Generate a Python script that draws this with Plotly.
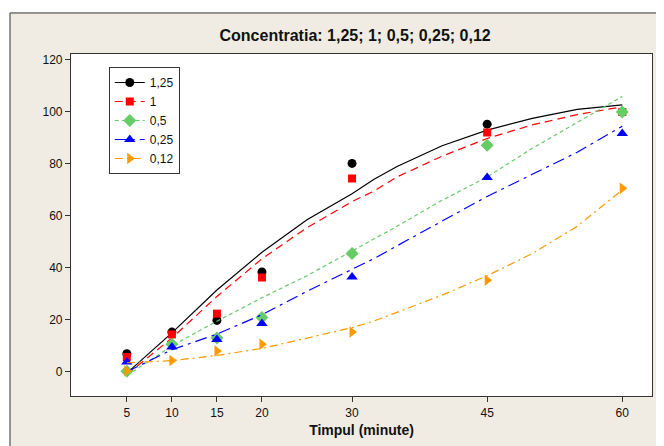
import plotly.graph_objects as go

# Data points (measured)
time_pts = [5, 10, 15, 20, 30, 45, 60]
conc_labels = ["1,25", "1", "0,5", "0,25", "0,12"]
val_125 = [7, 15.3, 19.8, 38.4, 80.2, 95.3, 100]
val_1 = [5.7, 14.4, 22.4, 36.3, 74.4, 92.1, 100]
val_05 = [0.2, 10.6, 13, 20.9, 45.5, 87.2, 100]
val_025 = [3.8, 9.6, 12.4, 18.6, 36.5, 74.8, 91.7]
val_012 = [0.3, 4.4, 8, 10.6, 15.3, 35.2, 70.6]

# Fitted (smoothed) curves
fit_time = [5, 10, 15, 20, 25, 30, 32.4, 35, 40, 45, 50, 55, 60]
fit_125 = [-0.5, 15, 31.5, 46, 58.5, 68.5, 74, 79, 87, 93, 97.5, 101, 102.7]
fit_1 = [-1, 13, 29, 43.5, 55.5, 65.5, 69.5, 75, 83, 89.8, 95, 99, 102]
fit_05 = [-1.5, 10, 19.5, 28.5, 37, 46.5, 51, 56, 66, 75, 86, 96, 106]
fit_025 = [0, 8.5, 14.5, 22, 31, 39.5, 43.5, 48.5, 58, 67.5, 76, 84.5, 94.5]
fit_012 = [3.5, 4.3, 6.3, 9, 13, 17, 19.5, 23, 29.5, 37, 45.5, 56, 70]

x_ticks = [5, 10, 15, 20, 30, 45, 60]
y_ticks = [0, 20, 40, 60, 80, 100, 120]

styles = [
    dict(color="#000000", dash="solid", symbol="circle", size=9),
    dict(color="#FF0000", dash="8px,5px", symbol="square", size=8),
    dict(color="#66CC66", dash="4px,3px", symbol="diamond", size=10),
    dict(color="#0000FF", dash="12px,5px,3px,5px", symbol="triangle-up", size=10),
    dict(color="#FF9900", dash="8px,4px,2px,4px", symbol="triangle-right", size=10),
]
vals = [val_125, val_1, val_05, val_025, val_012]
fits = [fit_125, fit_1, fit_05, fit_025, fit_012]

fig = go.Figure()
for lab, st, v, f in zip(conc_labels, styles, vals, fits):
    fig.add_trace(go.Scatter(x=fit_time, y=f, mode="lines", showlegend=False,
                             line=dict(color=st["color"], dash=st["dash"], width=1.2),
                             hoverinfo="skip"))
    fig.add_trace(go.Scatter(x=time_pts, y=v, mode="markers", showlegend=False,
                             marker=dict(color=st["color"], symbol=st["symbol"], size=st["size"])))
    fig.add_trace(go.Scatter(x=[None], y=[None], mode="lines+markers", name=lab,
                             line=dict(color=st["color"], dash=st["dash"], width=1.2),
                             marker=dict(color=st["color"], symbol=st["symbol"], size=st["size"])))

font = "Liberation Sans, Arial, sans-serif"
fig.update_layout(
    width=664, height=446,
    margin=dict(l=63, r=20, t=46, b=58),
    paper_bgcolor="white",
    plot_bgcolor="white",
    font=dict(family=font, size=12, color="#111111"),
    title=dict(text="<b>Concentratia: 1,25; 1; 0,5; 0,25; 0,12</b>",
               x=0.489, xref="paper", xanchor="center",
               y=1 - 27 / 446, yref="container", yanchor="middle",
               font=dict(family=font, size=16, color="#111111")),
    xaxis=dict(range=[-1.2, 63.3], tickvals=x_ticks, ticktext=[str(t) for t in x_ticks],
               showgrid=False, zeroline=False, showline=True, linecolor="#333333",
               linewidth=1.2, mirror=True, ticks="outside", ticklen=5, tickcolor="#333333",
               tickfont=dict(size=12),
               title=dict(text="<b>Timpul (minute)</b>", font=dict(size=14), standoff=6)),
    yaxis=dict(range=[-9.3, 122.3], tickvals=y_ticks, showgrid=False, zeroline=False,
               showline=True, linecolor="#333333", linewidth=1.2, mirror=True,
               ticks="outside", ticklen=5, tickcolor="#333333", tickfont=dict(size=12)),
    legend=dict(x=0.065, y=0.962, xanchor="left", yanchor="top",
                bgcolor="white", bordercolor="#333333", borderwidth=1,
                font=dict(size=12), tracegroupgap=0),
    shapes=[
        dict(type="rect", xref="paper", yref="paper", x0=-0.105, x1=1.2,
             y0=-0.3, y1=1.12, fillcolor="#F0ECE3", line=dict(color="#333333", width=1),
             layer="below"),
        dict(type="rect", xref="paper", yref="paper", x0=0, x1=1, y0=0, y1=1,
             fillcolor="white", line=dict(width=0), layer="below"),
    ],
)

fig.write_html("out.html")
